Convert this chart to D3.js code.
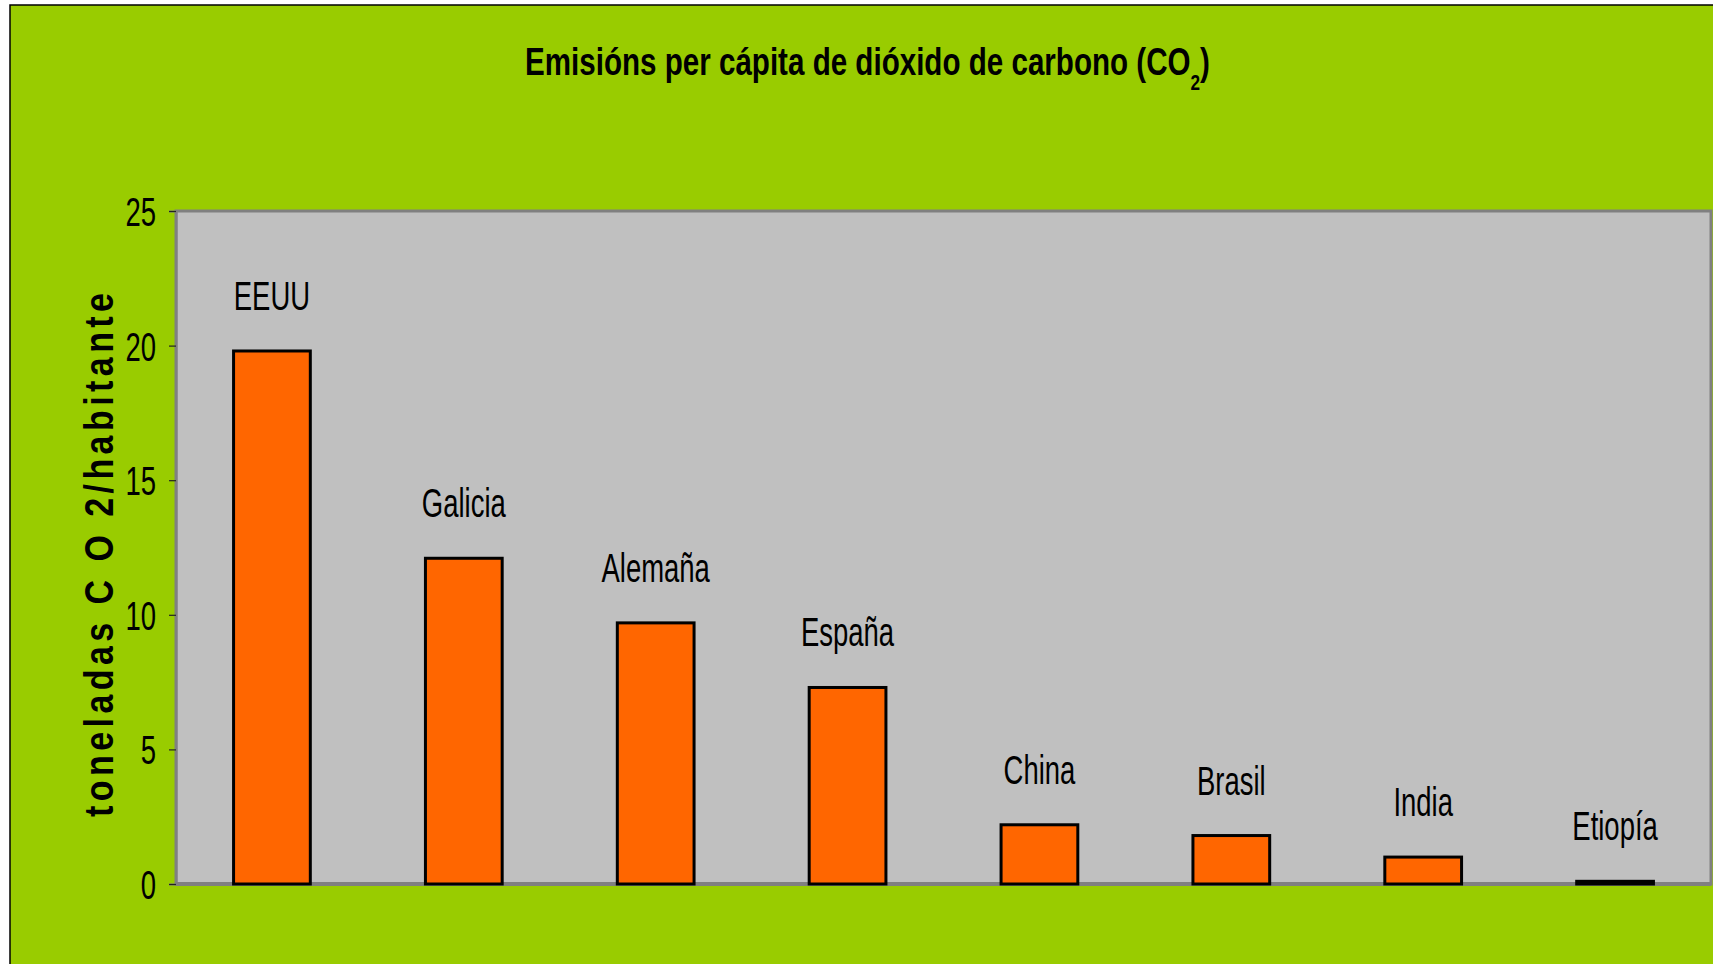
<!DOCTYPE html>
<html>
<head>
<meta charset="utf-8">
<script src="https://cdn.jsdelivr.net/npm/d3@7"></script>
<style>
  html, body { margin: 0; padding: 0; background: #ffffff; overflow: hidden; }
  svg { display: block; }
  text { font-family: "Liberation Sans", Arial, sans-serif; fill: #000; }
</style>
</head>
<body>
<svg id="chart" width="1713" height="964"></svg>
<script>
// ---- data ----
const categories = ["EEUU", "Galicia", "Alemaña", "España", "China", "Brasil", "India", "Etiopía"];
const values = [19.8, 12.1, 9.7, 7.3, 2.2, 1.8, 1.0, 0.1];
const yTicks = [0, 5, 10, 15, 20, 25];
const titleMain = "Emisións per cápita de dióxido de carbono (CO";
const titleSub = "2";
const titleEnd = ")";
const yTitle = "toneladas C O 2/habitante";

// ---- layout ----
const W = 1713, H = 964;
const plot = { left: 176, top: 211, right: 1711, bottom: 884 };
const SX = 0.67; // horizontal text compression

const svg = d3.select("#chart");

// outer chart area
svg.append("rect")
  .attr("x", 10).attr("y", 5)
  .attr("width", W + 20).attr("height", H + 20)
  .attr("fill", "#99CC00")
  .attr("stroke", "#000").attr("stroke-width", 1.5);

// scales
const x = d3.scaleBand()
  .domain(categories)
  .range([plot.left, plot.right])
  .paddingInner(0.6)
  .paddingOuter(0.3);
const y = d3.scaleLinear().domain([0, 25]).range([plot.bottom, plot.top]);

// plot area
svg.append("rect")
  .attr("x", plot.left).attr("y", plot.top)
  .attr("width", plot.right - plot.left).attr("height", plot.bottom - plot.top)
  .attr("fill", "#C0C0C0")
  .attr("stroke", "#808080").attr("stroke-width", 3);

// y axis
const yAxis = d3.axisLeft(y).tickValues(yTicks).tickSize(7).tickFormat(d3.format("d"));
const gy = svg.append("g").attr("transform", `translate(${plot.left},0)`).call(yAxis);
gy.select(".domain").attr("stroke", "#808080").attr("stroke-width", 2);
gy.selectAll(".tick line").attr("stroke", "#222").attr("stroke-width", 1.2);
gy.selectAll(".tick text").remove();
gy.selectAll(".tick").append("text")
  .attr("text-anchor", "end")
  .attr("font-size", 41)
  .attr("transform", `translate(-20,14.5) scale(${SX},1)`)
  .text(d => d3.format("d")(d));

// bottom axis line
svg.append("line")
  .attr("x1", plot.left).attr("x2", plot.right)
  .attr("y1", y(0)).attr("y2", y(0))
  .attr("stroke", "#808080").attr("stroke-width", 4);

// bars
const bw = x.bandwidth();
svg.append("g").selectAll("rect")
  .data(categories.map((c, i) => ({ c, v: values[i] })))
  .join("rect")
  .attr("x", d => x(d.c))
  .attr("y", d => y(d.v))
  .attr("width", bw)
  .attr("height", d => y(0) - y(d.v))
  .attr("fill", "#FF6600")
  .attr("stroke", "#000")
  .attr("stroke-width", 3);

// category labels above bars
svg.append("g").selectAll("text")
  .data(categories.map((c, i) => ({ c, v: values[i] })))
  .join("text")
  .attr("text-anchor", "middle")
  .attr("font-size", 41)
  .attr("transform", d => `translate(${x(d.c) + bw / 2},${y(d.v) - 41}) scale(${SX},1)`)
  .text(d => d.c);

// title
const t = svg.append("text")
  .attr("font-size", 38)
  .attr("font-weight", "bold")
  .attr("text-anchor", "start");
t.append("tspan").text(titleMain);
t.append("tspan").attr("font-size", 22).attr("dy", 15).text(titleSub);
t.append("tspan").attr("dy", -15).text(titleEnd);
const tw = t.node().getComputedTextLength();
const titleTarget = 685, titleLeft = 525;
t.attr("transform", `translate(${titleLeft},75) scale(${titleTarget / tw},1)`);

// y axis title (letter-spaced, rotated)
const ytScale = 0.85;
const ytTarget = 524;
svg.append("text")
  .attr("font-size", 40)
  .attr("font-weight", "bold")
  .attr("text-anchor", "middle")
  .attr("textLength", ytTarget / ytScale)
  .attr("lengthAdjust", "spacing")
  .attr("transform", `translate(113,555) rotate(-90) scale(${ytScale},1)`)
  .text(yTitle);
</script>
</body>
</html>
